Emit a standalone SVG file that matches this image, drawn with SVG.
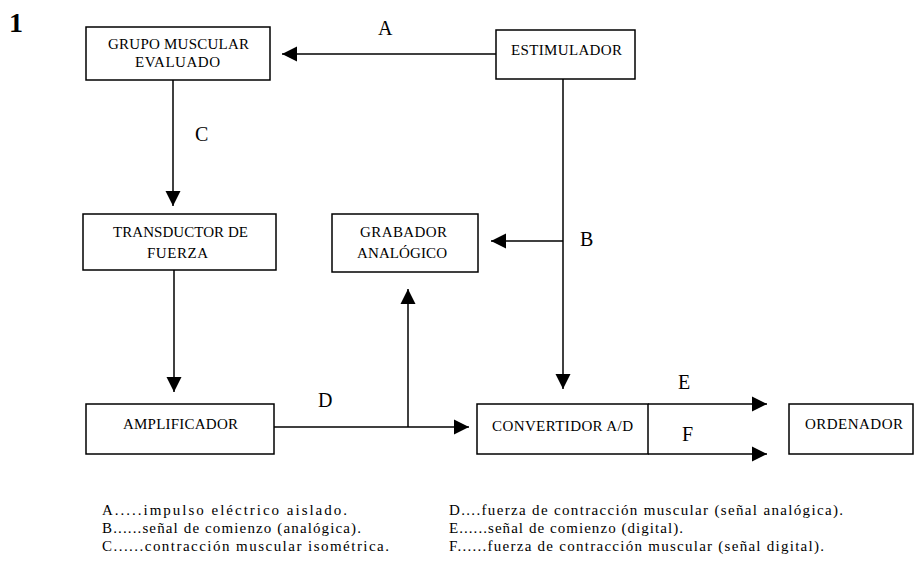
<svg xmlns="http://www.w3.org/2000/svg" width="914" height="570" viewBox="0 0 914 570">
<style>
.box{fill:#fff;stroke:#000;stroke-width:1.5}
.ln{fill:none;stroke:#000;stroke-width:1.5}
.t{font-family:"Liberation Serif","Times New Roman",serif;font-size:15px;fill:#000;text-anchor:middle}
.lbl{font-family:"Liberation Serif","Times New Roman",serif;font-size:20px;fill:#000}
.leg{font-family:"Liberation Serif","Times New Roman",serif;font-size:15px;fill:#000}
</style>
<defs>
<marker id="ah" markerUnits="userSpaceOnUse" markerWidth="16" markerHeight="16" viewBox="0 0 16 16" refX="15" refY="8" orient="auto">
<path d="M0,0.5 L15,8 L0,15.5 Z" fill="#000"/>
</marker>
</defs>
<rect width="914" height="570" fill="#fff"/>
<text x="9" y="32" font-family="Liberation Serif, serif" font-size="28" font-weight="bold">1</text>

<g id="connectors">
<line class="ln" x1="496" y1="54" x2="282" y2="54" marker-end="url(#ah)"/>
<line class="ln" x1="563" y1="79" x2="563" y2="389" marker-end="url(#ah)"/>
<line class="ln" x1="563" y1="241" x2="491" y2="241" marker-end="url(#ah)"/>
<line class="ln" x1="173" y1="80" x2="173" y2="206" marker-end="url(#ah)"/>
<line class="ln" x1="174" y1="270" x2="174" y2="392" marker-end="url(#ah)"/>
<line class="ln" x1="274" y1="427" x2="469" y2="427" marker-end="url(#ah)"/>
<line class="ln" x1="408" y1="427" x2="408" y2="289" marker-end="url(#ah)"/>
<line class="ln" x1="648" y1="404" x2="767" y2="404" marker-end="url(#ah)"/>
<line class="ln" x1="648" y1="454" x2="767" y2="454" marker-end="url(#ah)"/>
<text class="lbl" x="378" y="35">A</text>
<text class="lbl" x="580" y="246">B</text>
<text class="lbl" x="195" y="141">C</text>
<text class="lbl" x="318" y="407">D</text>
<text class="lbl" x="678" y="389">E</text>
<text class="lbl" x="682" y="441">F</text>
</g>

<g id="grupo">
<rect class="box" x="86" y="27" width="184" height="53"/>
<text class="t" x="178.5" y="49" textLength="141">GRUPO MUSCULAR</text>
<text class="t" x="177.5" y="67" textLength="85">EVALUADO</text>
</g>
<g id="estimulador">
<rect class="box" x="496" y="30" width="139" height="49"/>
<text class="t" x="566.5" y="55" textLength="111">ESTIMULADOR</text>
</g>
<g id="transductor">
<rect class="box" x="83" y="214" width="193" height="56"/>
<text class="t" x="180.5" y="237" textLength="135">TRANSDUCTOR DE</text>
<text class="t" x="177.5" y="258" textLength="61">FUERZA</text>
</g>
<g id="grabador">
<rect class="box" x="332" y="214" width="146" height="58"/>
<text class="t" x="403.5" y="237" textLength="87">GRABADOR</text>
<text class="t" x="402" y="258" textLength="90">ANALÓGICO</text>
</g>
<g id="amplificador">
<rect class="box" x="86" y="404" width="188" height="50"/>
<text class="t" x="180.5" y="429" textLength="115">AMPLIFICADOR</text>
</g>
<g id="convertidor">
<rect class="box" x="477" y="404" width="171" height="50"/>
<text class="t" x="562.5" y="431" textLength="141">CONVERTIDOR A/D</text>
</g>
<g id="ordenador">
<rect class="box" x="789" y="404" width="124" height="50"/>
<text class="t" x="854" y="429" textLength="98">ORDENADOR</text>
</g>

<g id="legend">
<text class="leg" x="102" y="515" textLength="245">A.....impulso eléctrico aislado.</text>
<text class="leg" x="102" y="533" textLength="259">B......señal de comienzo (analógica).</text>
<text class="leg" x="102" y="551" textLength="287">C......contracción muscular isométrica.</text>
<text class="leg" x="449" y="515" textLength="394">D....fuerza de contracción muscular (señal analógica).</text>
<text class="leg" x="449" y="533" textLength="234">E......señal de comienzo (digital).</text>
<text class="leg" x="449" y="551" textLength="375">F......fuerza de contracción muscular (señal digital).</text>
</g>
</svg>
